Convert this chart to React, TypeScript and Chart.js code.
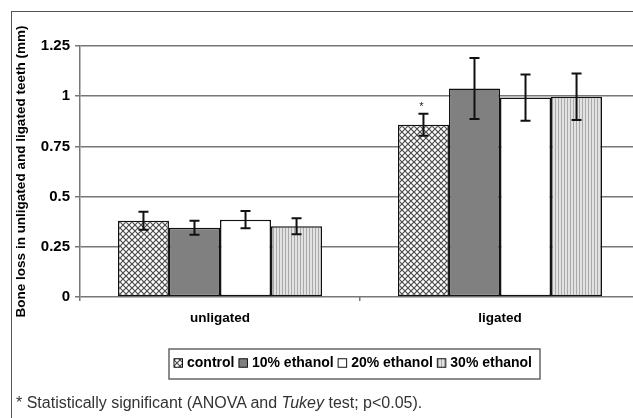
import React, { useEffect, useRef } from 'react';
import { Chart, registerables } from 'chart.js';

Chart.register(...registerables);

const categories = ['unligated', 'ligated'];
const seriesLabels = ['control', '10% ethanol', '20% ethanol', '30% ethanol'];
const controlValues = [0.38, 0.858];
const ethanol10Values = [0.345, 1.038];
const ethanol20Values = [0.385, 0.993];
const ethanol30Values = [0.352, 0.997];
const controlErrors = [0.045, 0.055];
const ethanol10Errors = [0.035, 0.152];
const ethanol20Errors = [0.043, 0.115];
const ethanol30Errors = [0.04, 0.116];
const controlMarks = ['', '*'];
const yTickLabels = ['0', '0.25', '0.5', '0.75', '1', '1.25'];
const yTitle = 'Bone loss in unligated and ligated teeth (mm)';

const FONT = '"Liberation Sans", Arial, Helvetica, sans-serif';

function makeCrossHatch(): CanvasPattern | string {
  const c = document.createElement('canvas');
  c.width = 6;
  c.height = 6;
  const g = c.getContext('2d');
  if (!g) return '#ccc';
  g.fillStyle = '#ffffff';
  g.fillRect(0, 0, 6, 6);
  g.strokeStyle = '#4a4a4a';
  g.lineWidth = 1.2;
  g.beginPath();
  g.moveTo(-1, -1);
  g.lineTo(7, 7);
  g.moveTo(7, -1);
  g.lineTo(-1, 7);
  g.stroke();
  return g.createPattern(c, 'repeat') || '#ccc';
}

function makeStripes(): CanvasPattern | string {
  const c = document.createElement('canvas');
  c.width = 3;
  c.height = 2;
  const g = c.getContext('2d');
  if (!g) return '#ccc';
  g.fillStyle = '#e2e2e2';
  g.fillRect(0, 0, 3, 2);
  g.fillStyle = '#a9a9a9';
  g.fillRect(0, 0, 1, 2);
  return g.createPattern(c, 'repeat') || '#ccc';
}

export default function App() {
  const ref = useRef<HTMLCanvasElement | null>(null);

  useEffect(() => {
    if (!ref.current) return;
    const hatch = makeCrossHatch();
    const stripes = makeStripes();
    const values = [controlValues, ethanol10Values, ethanol20Values, ethanol30Values];
    const errors = [controlErrors, ethanol10Errors, ethanol20Errors, ethanol30Errors];
    const fills: any[] = [hatch, '#808080', '#ffffff', stripes];

    const errorPlugin = {
      id: 'errorBars',
      afterDatasetsDraw(chart: any) {
        const ctx = chart.ctx;
        const ys = chart.scales.y;
        ctx.save();
        ctx.strokeStyle = '#111';
        ctx.lineWidth = 2;
        chart.data.datasets.forEach((ds: any, i: number) => {
          const meta = chart.getDatasetMeta(i);
          meta.data.forEach((bar: any, j: number) => {
            const v = values[i][j];
            const e = errors[i][j];
            const yt = ys.getPixelForValue(v + e);
            const yb = ys.getPixelForValue(v - e);
            ctx.beginPath();
            ctx.moveTo(bar.x, yt);
            ctx.lineTo(bar.x, yb);
            ctx.moveTo(bar.x - 5, yt);
            ctx.lineTo(bar.x + 5, yt);
            ctx.moveTo(bar.x - 5, yb);
            ctx.lineTo(bar.x + 5, yb);
            ctx.stroke();
            if (i === 0 && controlMarks[j]) {
              ctx.fillStyle = '#222';
              ctx.font = `11px ${FONT}`;
              ctx.textAlign = 'center';
              ctx.textBaseline = 'middle';
              ctx.fillText(controlMarks[j], bar.x - 2, yt - 7);
            }
          });
        });
        ctx.restore();
      },
    };

    const legendPlugin = {
      id: 'boxLegend',
      afterDraw(chart: any) {
        const ctx = chart.ctx;
        ctx.save();
        ctx.font = `bold 14px ${FONT}`;
        const labels = chart.data.datasets.map((d: any) => d.label);
        const widths = labels.map((l: string) => ctx.measureText(l).width);
        const marker = 8.5;
        const gapMT = 4.5;
        const gapItem = 4.5;
        const padL = 5;
        const padR = 8;
        let total = padL + padR + gapItem * (labels.length - 1);
        widths.forEach((w: number) => (total += marker + gapMT + w));
        const left = Math.round((chart.chartArea.left + chart.chartArea.right) / 2 - 5 - total / 2);
        const top = 349;
        const h = 30;
        ctx.strokeStyle = '#666';
        ctx.lineWidth = 1.5;
        ctx.strokeRect(left, top, total, h);
        const cy = top + h / 2 - 1;
        let x = left + padL;
        chart.data.datasets.forEach((ds: any, i: number) => {
          ctx.fillStyle = ds.backgroundColor;
          ctx.fillRect(x, cy - marker / 2, marker, marker);
          ctx.strokeStyle = '#111';
          ctx.lineWidth = 1;
          ctx.strokeRect(x, cy - marker / 2, marker, marker);
          x += marker + gapMT;
          ctx.fillStyle = '#000';
          ctx.textAlign = 'left';
          ctx.textBaseline = 'middle';
          ctx.fillText(labels[i], x, cy);
          x += widths[i] + gapItem;
        });
        ctx.restore();
      },
    };

    const chart = new Chart(ref.current, {
      type: 'bar',
      data: {
        labels: categories,
        datasets: seriesLabels.map((label, i) => ({
          label,
          data: values[i],
          backgroundColor: fills[i],
          borderColor: '#111',
          borderWidth: 1.5,
          borderSkipped: false,
          barPercentage: 1.0,
          categoryPercentage: 0.729,
        })),
      },
      options: {
        responsive: false,
        animation: false,
        devicePixelRatio: 1,
        layout: { padding: { left: 0, right: 20, top: 46, bottom: 0 } },
        plugins: {
          legend: { display: false },
          tooltip: { enabled: false },
        },
        scales: {
          x: {
            type: 'category',
            offset: true,
            afterFit(scale: any) {
              scale.height = 121;
            },
            grid: {
              display: true,
              drawOnChartArea: false,
              offset: true,
              tickLength: 4,
              color: '#777',
              lineWidth: 1.5,
            },
            border: { display: false },
            ticks: {
              color: '#000',
              padding: 9,
              font: { family: FONT, size: 13.5, weight: 'bold' },
            },
          },
          y: {
            min: 0,
            max: 1.25,
            afterFit(scale: any) {
              scale.width = 80;
            },
            ticks: {
              stepSize: 0.25,
              color: '#000',
              padding: 5,
              font: { family: FONT, size: 15, weight: 'bold' },
              callback: (_v: any, idx: number) => yTickLabels[idx],
            },
            grid: {
              color: '#777',
              lineWidth: 1.5,
              tickLength: 5,
            },
            border: { color: '#777', width: 1.5 },
            title: {
              display: true,
              text: yTitle,
              color: '#000',
              padding: { top: 13, bottom: 0 },
              font: { family: FONT, size: 13.5, weight: 'bold' },
            },
          },
        },
      },
      plugins: [errorPlugin, legendPlugin],
    } as any);

    return () => chart.destroy();
  }, []);

  return (
    <div
      style={{
        position: 'absolute',
        left: 0,
        top: 0,
        width: 633,
        height: 418,
        overflow: 'hidden',
        background: '#fff',
      }}
    >
      <canvas ref={ref} width={660} height={418} style={{ position: 'absolute', left: 0, top: 0 }} />
      <div
        style={{
          position: 'absolute',
          left: 11,
          top: 11,
          width: 800,
          height: 600,
          borderLeft: '1.5px solid #555',
          borderTop: '1.5px solid #555',
          pointerEvents: 'none',
        }}
      />
      <div
        style={{
          position: 'absolute',
          left: 16,
          top: 394,
          fontFamily: FONT,
          fontSize: 16,
          color: '#333',
          whiteSpace: 'nowrap',
          lineHeight: '18px',
        }}
      >
        * Statistically significant (ANOVA and <i>Tukey</i> test; p&lt;0.05).
      </div>
    </div>
  );
}
